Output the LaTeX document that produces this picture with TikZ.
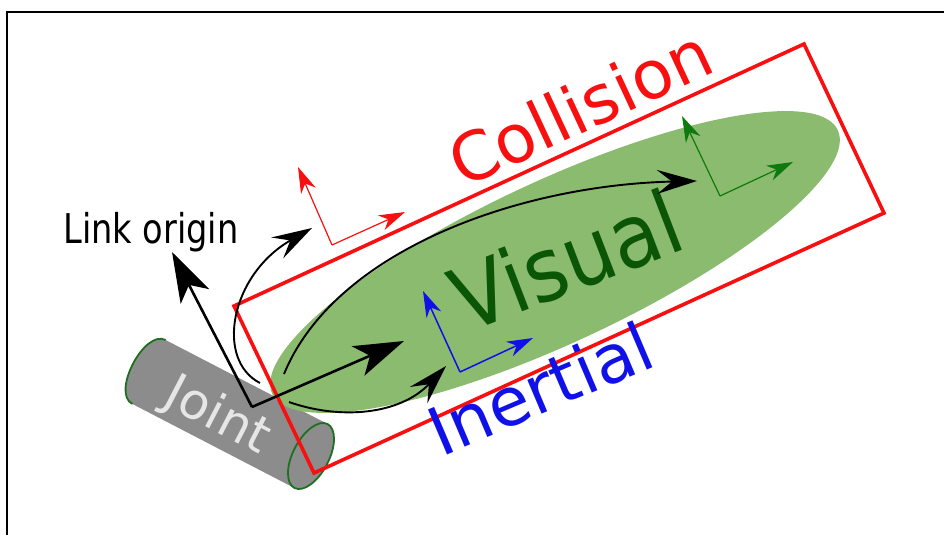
\documentclass[tikz,border=0pt]{standalone}
\usepackage{xcolor}
\usepackage{fontspec}
\setmainfont{DejaVu Sans}
\usetikzlibrary{arrows.meta}
\definecolor{visualfill}{HTML}{8ABB6F}
\definecolor{visualtext}{HTML}{0B5507}
\definecolor{visualaxis}{HTML}{0E7A0E}
\definecolor{jointfill}{HTML}{8C8C8C}
\definecolor{jointrim}{HTML}{1E7020}
\definecolor{jointtext}{HTML}{E6E6E6}
\definecolor{collisionred}{HTML}{F81010}
\definecolor{inertialblue}{HTML}{1010E8}
\begin{document}
\begin{tikzpicture}[
  x=1pt,
  y=-1pt,
  every node/.style={
    inner sep=0pt,
    align=center
  },
  linkaxis/.style={
    draw=black,
    line width=2.6pt,
    -{Stealth[length=50pt,width=32pt,inset=13pt]}
  },
  linkcurve/.style={
    draw=black,
    line width=1.9pt,
    -{Stealth[length=40pt,width=24pt,inset=15pt]}
  },
  frameaxis/.style={
    line width=1.2pt,
    -{Stealth[length=26pt,width=16pt,inset=8pt]}
  },
  bigtext/.style={
    font=\fontsize{#1}{#1}\selectfont
  }
]

\useasboundingbox (0,0) rectangle (944,535);

% Outer frame
\draw[line width=2pt] (7,535) -- (7,12) -- (944,12);

% Joint
\fill[jointfill] (165.6,340) .. controls (144.3,329) and (111,393) .. (132.4,404)
  -- (294.4,488) -- (327.6,424) -- cycle;
\draw[jointrim,line width=1.8pt] (165.6,340) .. controls (144.3,329) and (111,393) .. (132.4,404);
\fill[jointfill,rotate around={-27.4:(311,456)}] (311,456) ellipse[x radius=18,y radius=36];
\draw[jointrim,line width=1.8pt,rotate around={-27.4:(311,456)}] (311,456) ellipse[x radius=18,y radius=36];

% Visual
\fill[visualfill,rotate around={25:(555,262)}] (555,262) ellipse[x radius=312,y radius=81];

% Collision
\draw[collisionred,line width=3.6pt] (234,306) -- (804,44) -- (884,213) -- (314,473) -- cycle;

% Labels
\node[bigtext=67,text=collisionred,rotate=25] (collision) at (580,107) {Collision};
\node[bigtext=88,text=visualtext,rotate=21,xscale=0.91] (visual) at (566,260) {Visual};
\node[bigtext=67,text=inertialblue,rotate=23] (inertial) at (540,388) {Inertial};
\node[bigtext=50,text=jointtext,rotate=-27.4] (joint) at (217,417) {Joint};
\node[bigtext=41,xscale=0.82] (linkorigin) at (151,232) {Link origin};

% Axes of the other frames
\coordinate (redo) at (332,245);
\coordinate (redy) at (298,167);
\coordinate (redx) at (405,212);
\draw[frameaxis,collisionred] (redo) -- (redy);
\draw[frameaxis,collisionred] (redo) -- (redx);

\coordinate (blueo) at (460,372);
\coordinate (bluey) at (423,291);
\coordinate (bluex) at (533,338);
\draw[frameaxis,inertialblue,line width=1.5pt] (blueo) -- (bluey);
\draw[frameaxis,inertialblue,line width=1.5pt] (blueo) -- (bluex);

\coordinate (greeno) at (720,196);
\coordinate (greeny) at (682,116);
\coordinate (greenx) at (793,162);
\draw[frameaxis,visualaxis] (greeno) -- (greeny);
\draw[frameaxis,visualaxis] (greeno) -- (greenx);

% Link frame
\coordinate (linko) at (252,407);
\coordinate (linky) at (172,252);
\coordinate (linkx) at (404,341);
\draw[linkaxis] (linko) -- (linky);
\draw[linkaxis] (linko) -- (linkx);

% Offsets from the link frame
\coordinate (colstart) at (260,383);
\coordinate (colend) at (312,228);
\coordinate (visstart) at (284,374);
\coordinate (visend) at (697,181);
\coordinate (inestart) at (289,402);
\coordinate (ineend) at (446,366);
\draw[linkcurve] (colstart) .. controls (215,360) and (230,275) .. (colend);
\draw[linkcurve] (visstart) .. controls (335,250) and (520,185) .. (visend);
\draw[linkcurve] (inestart) .. controls (340,420) and (400,415) .. (ineend);

\end{tikzpicture}
\end{document}
